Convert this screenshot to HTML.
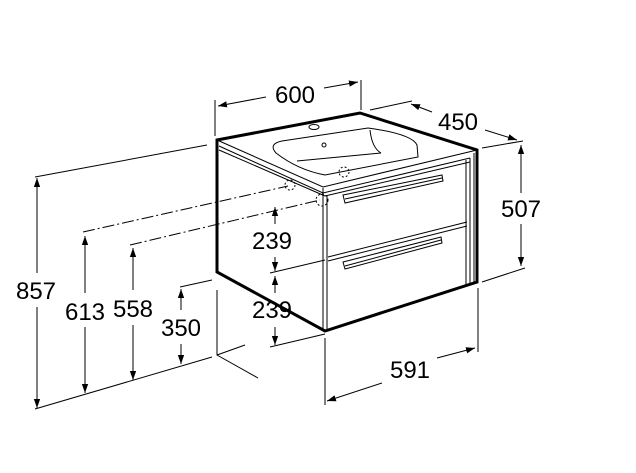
<!DOCTYPE html>
<html><head><meta charset="utf-8"><style>
html,body{margin:0;padding:0;background:#fff}
svg{display:block}
text{font-family:"Liberation Sans",sans-serif;font-size:24px;fill:#000;text-anchor:middle}
</style></head><body>
<svg width="636" height="473" viewBox="0 0 636 473" xmlns="http://www.w3.org/2000/svg">
<defs>
<marker id="a" viewBox="0 0 10 10" refX="10" refY="5" markerWidth="9" markerHeight="9" orient="auto-start-reverse" markerUnits="userSpaceOnUse"><path d="M0,1.5 L10,5 L0,8.5 Z" fill="#000"/></marker>
</defs>
<g fill="none" stroke="#000" stroke-width="1">
<path d="M217,140 L360,113 L477,150 L477,282 L325,331 L217,272 Z" stroke-width="3" fill="#fff"/>
<path d="M217,140 L323,187 L477,150"/>
<path d="M219,146 L323,193 L470,158"/>
<path d="M219,150 L325,196"/>
<path d="M325,196 L470,162"/>
<path d="M323,188 L323,331 M327,196 L327,331"/>
<path d="M466,160 L466,286 M470,158 L470,285 M474,153 L474,283"/>
<path d="M328,257 L467,222 M328,261 L467,226"/>
<path d="M343,195 L442,175 L443,181 L345,203 Z"/>
<path d="M345,199 L442,178"/>
<path d="M343,262 L441,237 L442,243 L345,269 Z"/>
<path d="M345,266 L441,240"/>
<path d="M282,141 L368,128 Q412,134 417,145 L418,157 L325,175 Q298,170 276,153 Q268,144 282,141 Z"/>
<path d="M370,130 Q372,148 381,153 M297,161 L381,153"/>
<ellipse cx="314" cy="127" rx="5" ry="2.5"/>
<circle cx="324" cy="145" r="2"/>
<circle cx="344" cy="172" r="5" stroke-dasharray="2,2"/>
<circle cx="290" cy="185" r="5" stroke-dasharray="2,2"/>
<circle cx="322" cy="200" r="6" stroke-dasharray="2,2"/>
<path d="M83,232 L288,186" stroke-dasharray="12,3,2,3"/>
<path d="M130,245 L320,200" stroke-dasharray="12,3,2,3"/>
<path d="M217,290 L217,355 L258,378 M217,355 L245,345"/>
<path d="M215,100 L215,136 M361,80 L361,110"/>
<path d="M266,97 L218,106" marker-end="url(#a)"/>
<path d="M324,88 L358,82" marker-end="url(#a)"/>
<path d="M370,110 L412,101 M482,148 L523,141"/>
<path d="M432,112 L411,104" marker-end="url(#a)"/>
<path d="M485,130 L517,140" marker-end="url(#a)"/>
<path d="M482,282 L525,268"/>
<path d="M521,193 L521,145" marker-end="url(#a)"/>
<path d="M521,224 L521,266" marker-end="url(#a)"/>
<path d="M325,338 L325,405 M478,288 L478,352"/>
<path d="M382,383 L327,401" marker-end="url(#a)"/>
<path d="M437,358 L475,348" marker-end="url(#a)"/>
<path d="M35,177 L207,145 M35,409 L212,357"/>
<path d="M37,273 L37,178" marker-end="url(#a)"/>
<path d="M37,307 L37,408" marker-end="url(#a)"/>
<path d="M85,293 L85,236" marker-end="url(#a)"/>
<path d="M85,327 L85,393" marker-end="url(#a)"/>
<path d="M133,290 L133,248" marker-end="url(#a)"/>
<path d="M133,325 L133,380" marker-end="url(#a)"/>
<path d="M180,287 L212,280"/>
<path d="M181,310 L181,289" marker-end="url(#a)"/>
<path d="M181,344 L181,364" marker-end="url(#a)"/>
<path d="M270,273 L325,260 M270,347 L325,334"/>
<path d="M275,224 L275,207" marker-end="url(#a)"/>
<path d="M275,257 L275,271" marker-end="url(#a)"/>
<path d="M275,293 L275,276" marker-end="url(#a)"/>
<path d="M275,327 L275,345" marker-end="url(#a)"/>
</g>
<text x="295" y="103">600</text>
<text x="458" y="130">450</text>
<text x="521" y="217">507</text>
<text x="410" y="378">591</text>
<text x="36" y="299">857</text>
<text x="85" y="320">613</text>
<text x="133" y="317">558</text>
<text x="181" y="336">350</text>
<text x="272" y="249">239</text>
<text x="272" y="318">239</text>
</svg>
</body></html>
